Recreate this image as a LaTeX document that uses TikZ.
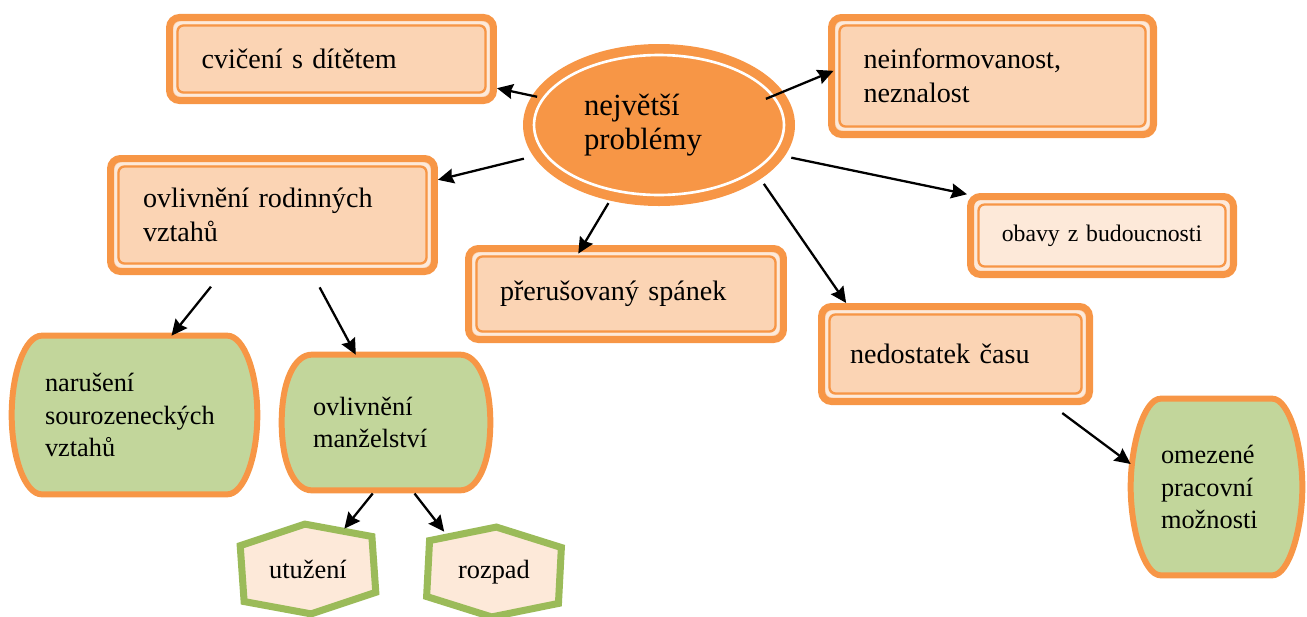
\documentclass[tikz,border=0pt]{standalone}
\usepackage{fontspec}
\setmainfont{Liberation Serif}
\usepackage{tikz}
\usetikzlibrary{shapes,arrows.meta,backgrounds,positioning}
\definecolor{orc}{HTML}{F79646}
\definecolor{peach}{HTML}{FBD4B4}
\definecolor{pale}{HTML}{FDE9D9}
\definecolor{leaf}{HTML}{C2D69B}
\definecolor{leafline}{HTML}{9BBB59}
\tikzset{
  prob_box/.style = {rectangle, rounded corners=0.2cm, draw=orc, line width=4pt,
    fill=peach, align=left, inner sep=0.1cm,
    font=\fontsize{16}{19.5}\selectfont,
    path picture={
      \draw[pale, line width=1.9pt, rounded corners=0.15cm]
        ([shift={(2.95pt,2.95pt)}]path picture bounding box.south west) rectangle
        ([shift={(-2.95pt,-2.95pt)}]path picture bounding box.north east);
      \draw[orc, line width=1.3pt, rounded corners=0.12cm]
        ([shift={(4.55pt,4.55pt)}]path picture bounding box.south west) rectangle
        ([shift={(-4.55pt,-4.55pt)}]path picture bounding box.north east);
    }},% problem box, thick-thin frame
  hub_ell/.style = {ellipse, draw=orc, fill=orc, line width=4pt, inner sep=0pt,
    minimum width=5.3cm, minimum height=3.1cm, text width=3cm, align=left,
    font=\fontsize{17.5}{19}\selectfont,
    path picture={\draw[white, line width=1.5pt] (path picture bounding box.center)
      ellipse [x radius=2.5cm, y radius=1.4cm];}},% the centre
  sub_green/.style = {rectangle, inner sep=0pt, align=left,
    font=\fontsize{15}{18.5}\selectfont},% consequence, outline drawn behind
  green_edge/.style = {draw=orc, fill=leaf, line width=3.4pt},
  sub_hex/.style = {rectangle, inner sep=0pt, minimum width=2.6cm,
    minimum height=1.6cm, font=\fontsize{15}{18}\selectfont},% hexagon leaf
  hex_edge/.style = {draw=leafline, fill=pale, line width=4pt},
  arr/.style = {-{Stealth[length=9pt,width=8.5pt,inset=1pt]}, line width=1.3pt}
}
\begin{document}
\begin{tikzpicture}[x=0.02cm, y=-0.02cm]
    \useasboundingbox (0,0) rectangle (1307,616);
    \node [hub_ell] (hub) at (659,125) {největší\\problémy};
    \node [prob_box, minimum width=6.48cm, minimum height=1.66cm, text width=5.2cm]
        (cvic) at (331.5,59) {cvičení s dítětem};
    \node [prob_box, minimum width=6.44cm, minimum height=2.34cm, text width=5.16cm]
        (neinf) at (992.5,76) {neinformovanost,\\neznalost};
    \node [prob_box, minimum width=6.48cm, minimum height=2.26cm, text width=5.18cm]
        (rodin) at (272.5,215) {ovlivnění rodinných\\vztahů};
    \node [prob_box, fill=pale, minimum width=5.26cm, minimum height=1.56cm,
        text width=4.4cm, align=center, font=\fontsize{13.5}{16}\selectfont]
        (obavy) at (1102,235.5) {obavy z budoucnosti};
    \node [prob_box, minimum width=6.3cm, minimum height=1.82cm, text width=5.04cm]
        (spanek) at (626,294) {přerušovaný spánek};
    \node [prob_box, minimum width=5.36cm, minimum height=1.9cm, text width=4.22cm]
        (nedost) at (955.5,354) {nedostatek času};
    \node [sub_green, minimum width=4.9cm, minimum height=3.16cm, text width=3.58cm]
        (nar) at (134.5,415) {narušení\\sourozeneckých\\vztahů};
    \node [sub_green, minimum width=4.16cm, minimum height=2.7cm, text width=2.92cm]
        (manz) at (386,422.5) {ovlivnění\\manželství};
    \node [sub_green, minimum width=3.42cm, minimum height=3.52cm, text width=2.22cm]
        (omez) at (1216.5,487) {omezené\\pracovní\\možnosti};
    \node [sub_hex] (utuz) at (308,569) {utužení};
    \node [sub_hex] (rozp) at (494,572) {rozpad};

    \begin{scope}[on background layer]
    \foreach \n in {nar,manz,omez}
        \draw [green_edge] ([xshift=0.6cm]\n.north west) -- ([xshift=-0.6cm]\n.north east)
            .. controls ([xshift=-0.27cm]\n.north east) and ([yshift=0.85cm]\n.east) .. (\n.east)
            .. controls ([yshift=-0.85cm]\n.east) and ([xshift=-0.27cm]\n.south east) .. ([xshift=-0.6cm]\n.south east)
            -- ([xshift=0.6cm]\n.south west)
            .. controls ([xshift=0.27cm]\n.south west) and ([yshift=-0.85cm]\n.west) .. (\n.west)
            .. controls ([yshift=0.85cm]\n.west) and ([xshift=0.27cm]\n.north west) .. cycle;
    \foreach \n/\r in {utuz/4,rozp/-3}
        \draw [hex_edge, shift={(\n)}, rotate=\r]
            (-66,-28) -- (0,-45) -- (66,-28) -- (66,28) -- (0,45) -- (-66,28) -- cycle;
    \end{scope}

    \draw [arr, shorten <=-0.1cm] (hub.167) -- (cvic.-10);
    \draw [arr, shorten <=-0.37cm, shorten >=-0.12cm] (hub.15) -- (neinf.179);
    \draw [arr, shorten <=0.2cm] (hub.194) -- (rodin.12);
    \draw [arr, shorten <=0.06cm, shorten >=-0.2cm] (hub.237) -- (spanek.131);
    \draw [arr, shorten <=0.14cm] (hub.-14) -- (obavy.163);
    \draw [arr, shorten <=0.12cm] (hub.-28) -- (nedost.155);
    \draw [arr, shorten <=0.3cm] (rodin.229) -- (nar.65);
    \draw [arr, shorten <=0.28cm] (rodin.-56) -- (manz.114);
    \draw [arr, shorten <=0.08cm] (manz.261) -- (utuz.48);
    \draw [arr, shorten <=0.08cm] (manz.-69) -- (rozp.141);
    \draw [arr, shorten <=0.27cm] (nedost.-28) -- (omez.165);
\end{tikzpicture}
\end{document}
